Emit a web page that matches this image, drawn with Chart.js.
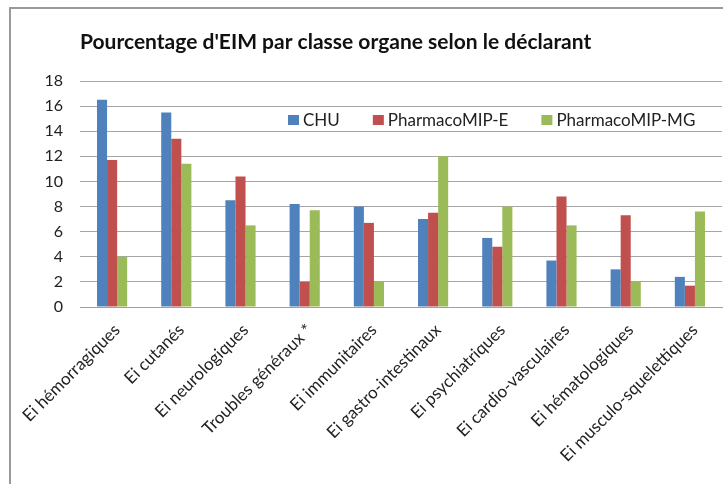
<!DOCTYPE html>
<html><head><meta charset="utf-8">
<script src="https://cdn.jsdelivr.net/npm/chart.js@4/dist/chart.umd.min.js"></script>
<style>html,body{margin:0;padding:0;background:#fff}#c{display:block}</style>
</head><body>
<canvas id="c" width="723" height="484"></canvas>
<script>
const categories = ["Ei hémorragiques","Ei cutanés","Ei neurologiques","Troubles généraux *","Ei immunitaires","Ei gastro-intestinaux","Ei psychiatriques","Ei cardio-vasculaires","Ei hématologiques","Ei musculo-squelettiques"];
const chu = [16.5, 15.5, 8.5, 8.2, 8.0, 7.0, 5.5, 3.7, 3.0, 2.4];
const pharmacoE = [11.7, 13.4, 10.4, 2.0, 6.7, 7.5, 4.8, 8.8, 7.3, 1.7];
const pharmacoMG = [4.0, 11.4, 6.5, 7.7, 2.0, 12.0, 8.0, 6.5, 2.0, 7.6];
const yTicks = [0,2,4,6,8,10,12,14,16,18];
const titleText = "Pourcentage d'EIM par classe organe selon le déclarant";

const FONT = "Lato, 'Open Sans', sans-serif";

const framePlugin = {
  id: 'frame',
  beforeDraw(chart) {
    const ctx = chart.ctx;
    ctx.save();
    ctx.fillStyle = '#fff';
    ctx.fillRect(0, 0, chart.width, chart.height);
    ctx.strokeStyle = '#9a9a9a';
    ctx.lineWidth = 2;
    ctx.beginPath();
    ctx.moveTo(10, chart.height + 2);
    ctx.lineTo(10, 8);
    ctx.lineTo(chart.width + 2, 8);
    ctx.stroke();
    ctx.restore();
  },
  afterDraw(chart) {
    const ctx = chart.ctx;
    const ca = chart.chartArea;
    ctx.save();
    // title
    ctx.fillStyle = '#111';
    ctx.font = "bold 21px " + FONT;
    ctx.textBaseline = 'alphabetic';
    ctx.textAlign = 'left';
    ctx.fillText(titleText, ca.left, 49);
    // legend
    ctx.font = "17px " + FONT;
    ctx.textBaseline = 'middle';
    let x = ca.left + 208;
    const y = 120;
    chart.data.datasets.forEach(ds => {
      ctx.fillStyle = ds.backgroundColor;
      ctx.fillRect(x, y - 5, 11, 10);
      x += 15;
      ctx.fillStyle = '#222';
      ctx.fillText(ds.label, x, y + 1);
      x += ctx.measureText(ds.label).width + 33;
    });
    ctx.restore();
  }
};

new Chart(document.getElementById('c'), {
  type: 'bar',
  data: {
    labels: categories,
    datasets: [
      {label: 'CHU', data: chu, backgroundColor: '#4F81BD'},
      {label: 'PharmacoMIP-E', data: pharmacoE, backgroundColor: '#C0504D'},
      {label: 'PharmacoMIP-MG', data: pharmacoMG, backgroundColor: '#9BBB59'}
    ]
  },
  options: {
    responsive: false,
    animation: false,
    devicePixelRatio: 1,
    layout: {padding: {top: 81, left: 0, right: 1, bottom: 0}},
    datasets: {bar: {barPercentage: 1, categoryPercentage: 0.47, borderWidth: 0}},
    plugins: {
      legend: {display: false},
      title: {display: false},
      tooltip: {enabled: false}
    },
    scales: {
      x: {
        grid: {display: false, drawTicks: false},
        border: {display: true, color: '#a0a0a0', width: 1},
        ticks: {
          minRotation: 45, maxRotation: 45, autoSkip: false,
          font: {family: FONT, size: 17}, color: '#222', padding: 13, labelOffset: 5
        },
        afterFit(scale) { scale.height = 177; }
      },
      y: {
        min: 0, max: 18,
        afterBuildTicks(scale) { scale.ticks = yTicks.map(v => ({value: v})); },
        grid: {color: '#a6a6a6', lineWidth: 1, drawTicks: false},
        border: {display: false},
        ticks: {font: {family: FONT, size: 16}, color: '#222', padding: 17},
        afterFit(scale) { scale.width = 80; }
      }
    }
  },
  plugins: [framePlugin]
});
</script>
</body></html>
